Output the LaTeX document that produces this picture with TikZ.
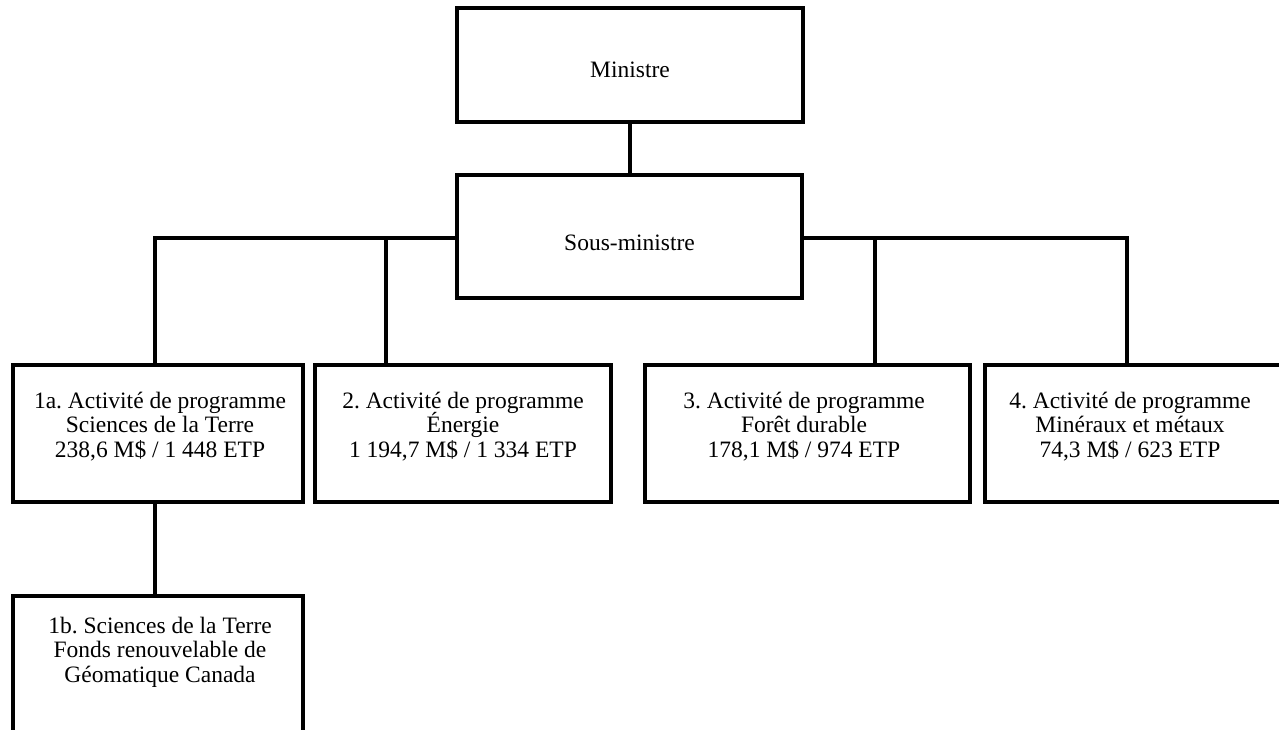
\documentclass[tikz,border=0pt]{standalone}
\usepackage{fontspec}
\setmainfont{Liberation Serif}
\newcommand{\boxfont}{\fontsize{23.5}{24.5}\selectfont\lineskiplimit=-20pt\lineskip=0pt\relax}
\begin{document}
\frenchspacing
\begin{tikzpicture}[x=1pt,y=-1pt,
  box/.style={draw=black,line width=3.2pt,inner sep=0pt,outer sep=0pt},
  lbl/.style={inner sep=0pt,outer sep=0pt,align=center,anchor=base,
    font=\boxfont},
  conn/.style={draw=black,line width=3.2pt}]
\useasboundingbox (0,0) rectangle (1279,729);
\clip (0,0) rectangle (1279,729);
% boxes
\node[box,minimum width=346pt,minimum height=114pt] (min) at (630,65) {};
\node[box,minimum width=345pt,minimum height=123pt] (sm) at (629.5,236.5) {};
\node[box,minimum width=290pt,minimum height=137pt] (a1) at (158,433.5) {};
\node[box,minimum width=296pt,minimum height=137pt] (a2) at (463,433.5) {};
\node[box,minimum width=325pt,minimum height=137pt] (a3) at (807.5,433.5) {};
\node[box,minimum width=320pt,minimum height=137pt] (a4) at (1145,433.5) {};
\node[box,minimum width=290pt,minimum height=204pt] (b1) at (158,698) {};
% labels (anchor base = baseline of the last line)
\node[lbl] (tmin) at (630,77) {Ministre};
\node[lbl] (tsm) at (629.5,250) {Sous-ministre};
\node[lbl] (ta1) at (160,457) {1a. Activité de programme\\Sciences de la Terre\\238,6 M\$ / 1 448 ETP};
\node[lbl] (ta2) at (463,457) {2. Activité de programme\\Énergie\\1 194,7 M\$ / 1 334 ETP};
\node[lbl] (ta3) at (804,457) {3. Activité de programme\\Forêt durable\\178,1 M\$ / 974 ETP};
\node[lbl] (ta4) at (1130,457) {4. Activité de programme\\Minéraux et métaux\\74,3 M\$ / 623 ETP};
\node[lbl] (tb1) at (160,682) {1b. Sciences de la Terre\\Fonds renouvelable de\\Géomatique Canada};
% connectors
\coordinate (j1) at (155,238);
\coordinate (j2) at (386,238);
\coordinate (j3) at (875,238);
\coordinate (j4) at (1127,238);
\draw[conn] (min.south) -- (min.south |- sm.north);
\draw[conn] (sm.west |- j1) -- (j1) -- (j1 |- a1.north);
\draw[conn] (j2) -- (j2 |- a2.north);
\draw[conn] (sm.east |- j4) -- (j4) -- (j4 |- a4.north);
\draw[conn] (j3) -- (j3 |- a3.north);
\draw[conn] (j1 |- a1.south) -- (j1 |- b1.north);
\end{tikzpicture}
\end{document}
